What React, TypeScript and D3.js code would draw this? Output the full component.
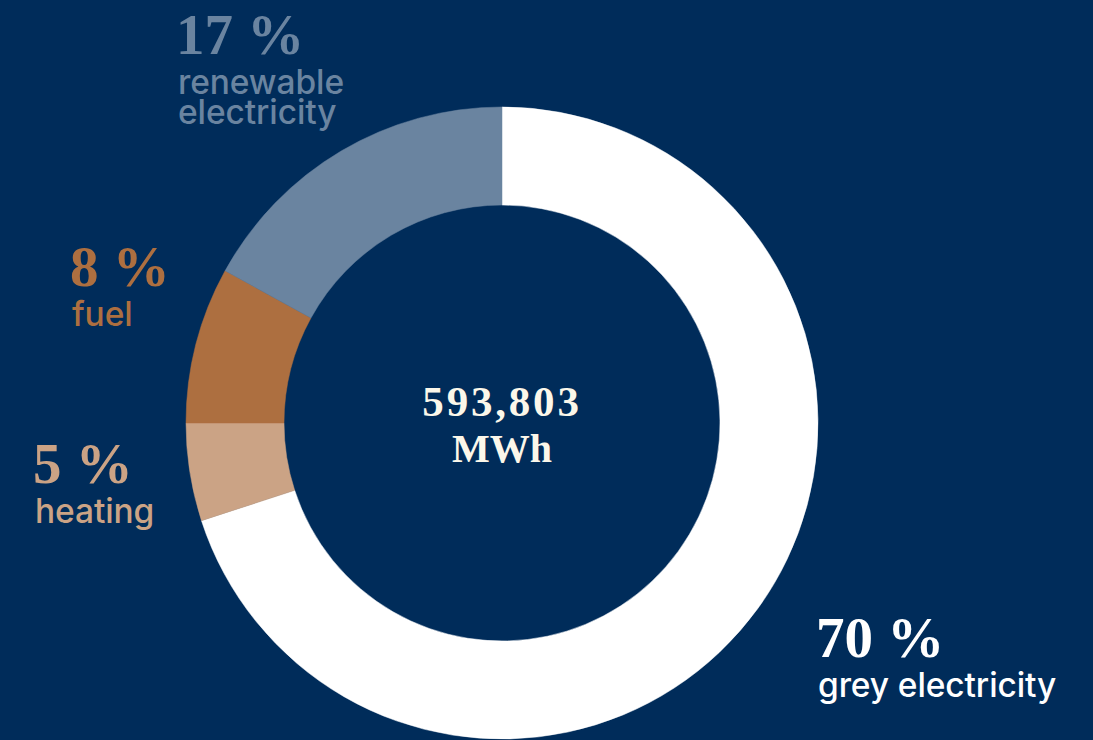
import React from "react";
import * as d3 from "d3";

const categories = ["grey electricity", "heating", "fuel", "renewable electricity"];
const shares = [70, 5, 8, 17];
const sliceColors = ["#ffffff", "#cba385", "#ad6f40", "#6a84a0"];
const labelLines = [["grey electricity"], ["heating"], ["fuel"], ["renewable", "electricity"]];
const totalLabel = "593,803";
const unitLabel = "MWh";

const W = 1093;
const H = 740;
const BG = "#002c5a";

// label anchor positions (left x, baseline of percent)
const labelPos: { x: number; y: number }[] = [
  { x: 816, y: 657 },
  { x: 33, y: 483 },
  { x: 70, y: 286 },
  { x: 176, y: 54 },
];

export default function App() {
  const cx = 502;
  const cy = 423;
  const outerR = 316;
  const innerR = 218;

  const pie = d3
    .pie<number>()
    .sort(null)
    .value((d) => d)
    .startAngle(0)
    .endAngle(2 * Math.PI);
  const arcs = pie(shares);
  const arcGen = d3.arc<d3.PieArcDatum<number>>().innerRadius(innerR).outerRadius(outerR);

  const serif = "'Liberation Serif', 'DejaVu Serif', serif";
  const sans = "Inter, 'Liberation Sans', Arial, sans-serif";
  const cream = "#fbf7ea";

  return (
    <svg
      width={W}
      height={H}
      style={{ position: "absolute", left: 0, top: 0, display: "block" }}
    >
      <rect x={0} y={0} width={W} height={H} fill={BG} />
      <g transform={`translate(${cx},${cy})`}>
        {arcs.map((a, i) => (
          <path key={categories[i]} d={arcGen(a) || ""} fill={sliceColors[i]} stroke={sliceColors[i]} strokeWidth={0.5} />
        ))}
        <text
          x={0}
          y={416 - cy}
          textAnchor="middle"
          fontFamily={serif}
          fontWeight={700}
          fontSize={43}
          letterSpacing={2.8}
          fill={cream}
        >
          {totalLabel}
        </text>
        <text
          x={0}
          y={462 - cy}
          textAnchor="middle"
          fontFamily={serif}
          fontWeight={700}
          fontSize={40}
          fill={cream}
        >
          {unitLabel}
        </text>
      </g>
      {arcs.map((a, i) => {
        const p = labelPos[i];
        const lines = labelLines[i];
        return (
          <g key={"lab" + i} fill={sliceColors[i]}>
            <text
              x={p.x}
              y={p.y}
              fontFamily={serif}
              fontWeight={700}
              fontSize={57}
            >
              {`${shares[i]} %`}
            </text>
            {lines.map((l, j) => (
              <text
                key={j}
                x={p.x + 2}
                y={p.y + 40 + j * 30}
                fontFamily={sans}
                fontWeight={500}
                fontSize={33.5}
                letterSpacing={-0.1}
              >
                {l}
              </text>
            ))}
          </g>
        );
      })}
    </svg>
  );
}
